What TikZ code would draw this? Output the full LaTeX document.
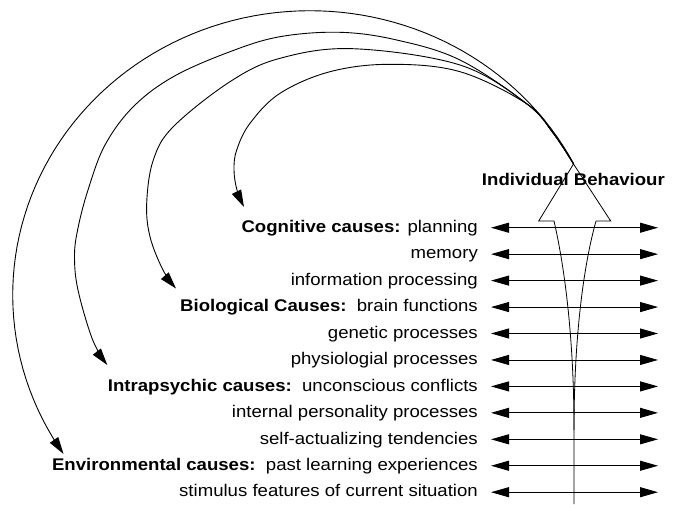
\documentclass[tikz,border=0pt]{standalone}
\usepackage{fontspec}
\setmainfont{Liberation Sans}[FakeStretch=1.1]
\usetikzlibrary{arrows.meta}
\begin{document}
\begin{tikzpicture}[x=1pt,y=-1pt,
  font=\fontsize{16.9}{19}\selectfont,
  curve/.style={line width=0.9pt,-{Triangle[length=17pt,width=10pt]}},
  dbl/.style={line width=0.9pt,{Triangle[length=18pt,width=10pt]}-{Triangle[length=18pt,width=10pt]}},
  rowlabel/.style={anchor=base east,inner sep=0pt},
  body/.style={line width=0.8pt}]
\useasboundingbox (0,0) rectangle (695,504);

% big arrow shape
\coordinate (apex) at (573.5,164);
\coordinate (bl) at (538.7,221);
\coordinate (br) at (610.7,221);
\coordinate (sl) at (554,221);
\coordinate (sr) at (596,221);
\coordinate (merge) at (574,430);
\coordinate (foot) at (574,504);
\draw[body] (sl) -- (bl) -- (apex) -- (br) -- (sr);
\draw[body] (sl) .. controls (563,260) and (574,330) .. (merge) -- (foot);
\draw[body] (sr) .. controls (585,260) and (574,330) .. (merge);

\node[anchor=base,inner sep=0pt,font=\fontsize{16.9}{19}\selectfont\bfseries] (title) at (573.4,185) {Individual Behaviour};

% rows
\node[rowlabel] (t0) at (478,232.4) {\textbf{Cognitive causes:} planning};
\node[rowlabel] (t1) at (478,258.85) {memory};
\node[rowlabel] (t2) at (478,285.3) {information processing\ };
\node[rowlabel] (t3) at (478,311.75) {\textbf{Biological Causes:}\ \ brain functions};
\node[rowlabel] (t4) at (478,338.2) {genetic processes};
\node[rowlabel] (t5) at (478,364.65) {physiologial processes};
\node[rowlabel] (t6) at (478,391.1) {\textbf{Intrapsychic causes:}\ \ unconscious conflicts};
\node[rowlabel] (t7) at (478,417.55) {internal personality processes};
\node[rowlabel] (t8) at (478,444) {self-actualizing tendencies};
\node[rowlabel] (t9) at (478,470.45) {\textbf{Environmental causes:}\ \ past learning experiences};
\node[rowlabel] (t10) at (478,496.9) {stimulus features of current situation};

\foreach \i/\y in {0/227.7,1/254.15,2/280.6,3/307.05,4/333.5,5/359.95,6/386.4,7/412.85,8/439.3,9/465.75,10/492.2}{
  \coordinate (L\i) at (491,\y);
  \coordinate (R\i) at (658,\y);
  \draw[dbl] (L\i) -- (R\i);
}

% curved arrows
\coordinate (tipA) at (244,207);
\coordinate (tipB) at (176,288.5);
\coordinate (tipC) at (107.3,365);

\draw[curve] plot[smooth,tension=0.6] coordinates {(apex) (553.3,133.3) (527,104) (460,71.7) (390,64.3) (330,71.7) (280,93.3) (250,123.3) (236.7,150) (234,170) (237,190) (tipA)};
\draw[curve] plot[smooth,tension=0.6] coordinates {(apex) (553.3,133.3) (527,104) (460,65) (353,48.7) (280,58.3) (230,81.7) (173.3,126.7) (153.3,160) (146.7,203) (150,236.7) (163,270) (tipB)};
\draw[curve] plot[smooth,tension=0.6] coordinates {(apex) (553.3,133.3) (527,104) (460,60) (396.7,40) (340,32.3) (280,36.7) (230,51.7) (173.3,76.7) (133.3,106.7) (105,145) (88,190) (78,228) (74.5,256) (78,290) (92.7,340) (tipC)};
\draw[curve] plot[domain=27.5:214,samples=90,variable=\t] ({310+297.3*cos(\t)},{295-284.3*sin(\t)});
\end{tikzpicture}
\end{document}
